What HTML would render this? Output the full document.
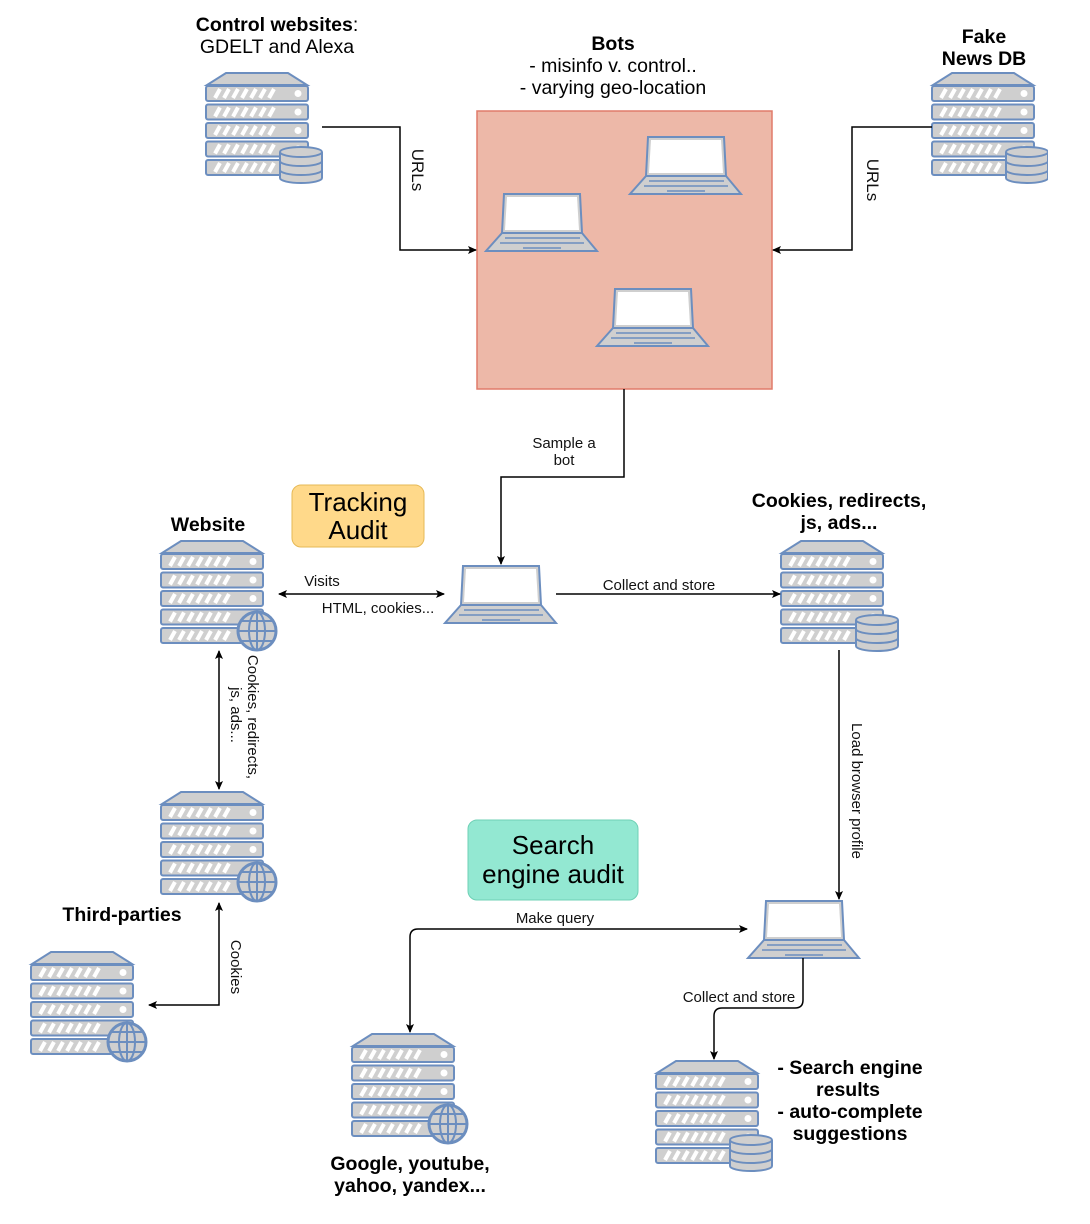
<!DOCTYPE html>
<html><head><meta charset="utf-8"><style>
html,body{margin:0;padding:0;background:#fff}
svg{display:block;font-family:"Liberation Sans",sans-serif}
</style></head><body>
<svg width="1090" height="1224" viewBox="0 0 1090 1224" xmlns="http://www.w3.org/2000/svg">
<defs>
<g id="row">
<rect x="0" y="0" width="102" height="15" rx="2" fill="#cfcfcf" stroke="#6c8ebf" stroke-width="2"/>
<g stroke="#fff" stroke-width="4">
<line x1="9" y1="12" x2="14" y2="3"/><line x1="18" y1="12" x2="23" y2="3"/><line x1="27" y1="12" x2="32" y2="3"/><line x1="36" y1="12" x2="41" y2="3"/><line x1="45" y1="12" x2="50" y2="3"/><line x1="54" y1="12" x2="59" y2="3"/><line x1="63" y1="12" x2="68" y2="3"/>
</g>
<circle cx="92" cy="7.5" r="3.5" fill="#fff"/>
</g>
<g id="server">
<polygon points="20,1 82,1 101,13 1,13" fill="#cfcfcf" stroke="#6c8ebf" stroke-width="2"/>
<use href="#row" x="0" y="14"/>
<use href="#row" x="0" y="32.5"/>
<use href="#row" x="0" y="51"/>
<use href="#row" x="0" y="69.5"/>
<use href="#row" x="0" y="88"/>
</g>
<g id="db">
<g fill="#cfcfcf" stroke="#6c8ebf" stroke-width="2">
<path d="M0,6 v26 a21,5 0 0 0 42,0 v-26"/>
<ellipse cx="21" cy="6" rx="21" ry="5"/>
<path d="M0,15 a21,5 0 0 0 42,0" fill="none"/>
<path d="M0,24 a21,5 0 0 0 42,0" fill="none"/>
</g>
</g>
<g id="globe">
<circle cx="20" cy="19" r="19" fill="#cfcfcf" stroke="#6c8ebf" stroke-width="3"/>
<g fill="none" stroke="#6c8ebf" stroke-width="2">
<ellipse cx="20" cy="19" rx="8" ry="19"/>
<line x1="20" y1="0" x2="20" y2="38"/>
<line x1="1" y1="19" x2="39" y2="19"/>
<path d="M4,9 h32 M4,29 h32"/>
</g>
</g>
<g id="laptop">
<polygon points="18,1 94,1 96,40 16,40" fill="#cfcfcf" stroke="#6c8ebf" stroke-width="2"/>
<polygon points="21,4 91,4 93,37 19,37" fill="#fff"/>
<polygon points="16,40 96,40 111,58 0,58" fill="#cfcfcf" stroke="#6c8ebf" stroke-width="2"/>
<g stroke="#6c8ebf" stroke-width="1.5"><line x1="19" y1="45" x2="94" y2="45"/><line x1="14" y1="50" x2="98" y2="50"/><line x1="37" y1="55" x2="75" y2="55"/></g>
</g>
<marker id="ar" markerWidth="10" markerHeight="10" refX="8" refY="4" orient="auto" markerUnits="userSpaceOnUse"><path d="M0,0 L9,4 L0,8 L2,4 Z" fill="#000"/></marker>
<marker id="al" markerWidth="10" markerHeight="10" refX="1" refY="4" orient="auto" markerUnits="userSpaceOnUse"><path d="M9,0 L0,4 L9,8 L7,4 Z" fill="#000"/></marker>
</defs>

<rect x="477" y="111" width="295" height="278" fill="#edb8a8" stroke="#e07b6a" stroke-width="1.5"/>
<use href="#laptop" x="486" y="193"/>
<use href="#laptop" x="630" y="136"/>
<use href="#laptop" x="597" y="288"/>

<use href="#server" x="206" y="72"/><use href="#db" x="280" y="146"/>
<use href="#server" x="932" y="72"/><use href="#db" x="1006" y="146"/>
<rect x="1048" y="60" width="42" height="140" fill="#fff"/>
<use href="#server" x="161" y="540"/><use href="#globe" x="237" y="612"/>
<use href="#server" x="161" y="791"/><use href="#globe" x="237" y="863"/>
<use href="#server" x="31" y="951"/><use href="#globe" x="107" y="1023"/>
<use href="#server" x="781" y="540"/><use href="#db" x="856" y="614"/>
<use href="#server" x="352" y="1033"/><use href="#globe" x="428" y="1105"/>
<use href="#server" x="656" y="1060"/><use href="#db" x="730" y="1134"/>

<use href="#laptop" x="445" y="565"/>
<use href="#laptop" x="748" y="900"/>

<rect x="292" y="485" width="132" height="62" rx="9" fill="#ffd98a" stroke="#e6b956" stroke-width="1"/>
<text x="358" y="511" font-size="26" text-anchor="middle">Tracking</text>
<text x="358" y="539" font-size="26" text-anchor="middle">Audit</text>
<rect x="468" y="820" width="170" height="80" rx="9" fill="#93e8d2" stroke="#6fd0b5" stroke-width="1"/>
<text x="553" y="854" font-size="26" text-anchor="middle">Search</text>
<text x="553" y="883" font-size="26" text-anchor="middle">engine audit</text>

<g fill="none" stroke="#000" stroke-width="1.5">
<polyline points="322,127 400,127 400,250 476,250" marker-end="url(#ar)"/>
<polyline points="932,127 852,127 852,250 773,250" marker-end="url(#ar)"/>
<polyline points="624,389 624,477 501,477 501,564" marker-end="url(#ar)"/>
<line x1="279" y1="594" x2="444" y2="594" marker-start="url(#al)" marker-end="url(#ar)"/>
<line x1="556" y1="594" x2="780" y2="594" marker-end="url(#ar)"/>
<line x1="219" y1="651" x2="219" y2="789" marker-start="url(#al)" marker-end="url(#ar)"/>
<polyline points="219,903 219,1005 149,1005" marker-start="url(#al)" marker-end="url(#ar)"/>
<line x1="839" y1="650" x2="839" y2="899" marker-end="url(#ar)"/>
<path d="M747,929 H418 Q410,929 410,937 V1032" marker-start="url(#al)" marker-end="url(#ar)"/>
<path d="M803,958 V1000 Q803,1008 795,1008 H722 Q714,1008 714,1016 V1059" marker-end="url(#ar)"/>
</g>

<g font-size="15" fill="#111">
<text x="564" y="448" text-anchor="middle">Sample a</text>
<text x="564" y="465" text-anchor="middle">bot</text>
<text x="322" y="586" text-anchor="middle">Visits</text>
<text x="378" y="613" text-anchor="middle">HTML, cookies...</text>
<text x="659" y="590" text-anchor="middle">Collect and store</text>
<text x="555" y="923" text-anchor="middle">Make query</text>
<text x="739" y="1002" text-anchor="middle">Collect and store</text>
<text transform="translate(412,170) rotate(90)" font-size="17" text-anchor="middle">URLs</text>
<text transform="translate(867,180) rotate(90)" font-size="17" text-anchor="middle">URLs</text>
<text transform="translate(248,717) rotate(90)" text-anchor="middle">Cookies, redirects,</text>
<text transform="translate(231,715) rotate(90)" text-anchor="middle">js, ads...</text>
<text transform="translate(231,967) rotate(90)" text-anchor="middle">Cookies</text>
<text transform="translate(852,791) rotate(90)" text-anchor="middle">Load browser profile</text>
</g>
<g font-size="19.5" fill="#000" text-anchor="middle">
<text x="277" y="31"><tspan font-weight="bold">Control websites</tspan>:</text>
<text x="277" y="53">GDELT and Alexa</text>
<text x="613" y="50" font-weight="bold">Bots</text>
<text x="613" y="72">- misinfo v. control..</text>
<text x="613" y="94">- varying geo-location</text>
<text x="984" y="43" font-weight="bold">Fake</text>
<text x="984" y="65" font-weight="bold">News DB</text>
<text x="208" y="531" font-weight="bold">Website</text>
<text x="839" y="507" font-weight="bold">Cookies, redirects,</text>
<text x="839" y="529" font-weight="bold">js, ads...</text>
<text x="122" y="921" font-weight="bold">Third-parties</text>
<text x="410" y="1170" font-weight="bold">Google, youtube,</text>
<text x="410" y="1192" font-weight="bold">yahoo, yandex...</text>
<text x="850" y="1074" font-weight="bold">- Search engine</text>
<text x="848" y="1096" font-weight="bold">results</text>
<text x="850" y="1118" font-weight="bold">- auto-complete</text>
<text x="850" y="1140" font-weight="bold">suggestions</text>
</g>
</svg>
</body></html>
